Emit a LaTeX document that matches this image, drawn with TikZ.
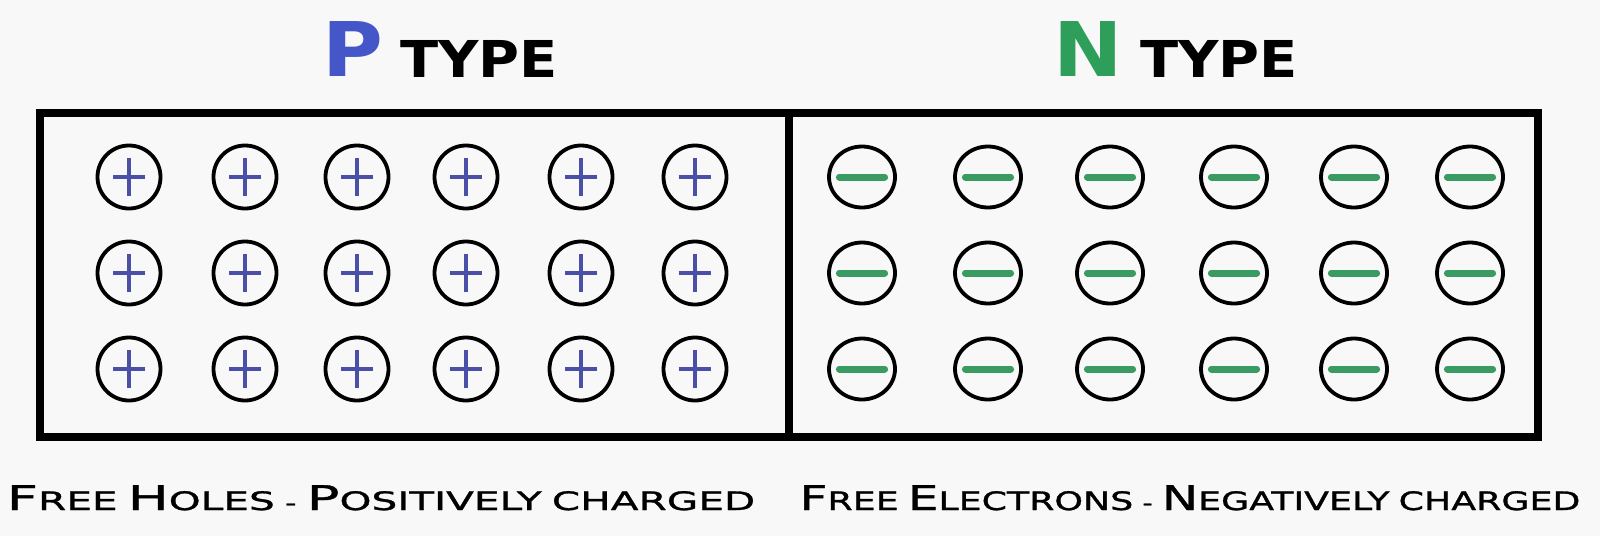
\documentclass[tikz,border=0pt]{standalone}
\usepackage{fontspec}
\setmainfont{DejaVu Sans}
\newfontfamily\titlefont[FakeStretch=1.1]{DejaVu Sans}
\newfontfamily\pcapsfont[FakeStretch=1.6,FakeBold=1.2]{DejaVu Sans}
\newfontfamily\ncapsfont[FakeStretch=1.43,FakeBold=1.2]{DejaVu Sans}
\usetikzlibrary{shapes.geometric}
\usepackage{xcolor}
\definecolor{holeblue}{HTML}{4A50A8}
\definecolor{pblue}{HTML}{4556C8}
\definecolor{ngreen}{HTML}{2E9E5B}
\definecolor{elecgreen}{HTML}{3A9B62}
\definecolor{paper}{HTML}{F8F8F8}
% capital + small capitals, the way the captions are set
\newcommand{\capword}[2]{{\fontsize{17}{20}\selectfont #1}{\fontsize{12.7}{15}\selectfont #2}}

\begin{document}
\begin{tikzpicture}[x=0.5pt, y=-0.5pt,
  hole/.style={circle, draw, line width=1.9pt, minimum size=31.5pt, inner sep=0pt,
    path picture={\draw[holeblue, line width=2.2pt]
      ([xshift=-8pt]path picture bounding box.center) -- ([xshift=8pt]path picture bounding box.center)
      ([yshift=-9.5pt]path picture bounding box.center) -- ([yshift=9.5pt]path picture bounding box.center);}},
  electron/.style={ellipse, draw, line width=1.9pt, minimum width=33pt, minimum height=30.5pt, inner sep=0pt,
    path picture={\draw[elecgreen, line width=3.5pt, line cap=round]
      ([xshift=-11.3pt]path picture bounding box.center) -- ([xshift=11.3pt]path picture bounding box.center);}},
  letter/.style={font=\titlefont\fontsize{37.7}{40}\selectfont\bfseries, inner sep=0pt, anchor=base},
  typeword/.style={font=\titlefont\fontsize{25.4}{28}\selectfont\bfseries, inner sep=0pt, anchor=base},
  caption/.style={inner sep=0pt, anchor=base}]
  \fill[paper] (0,0) rectangle (1600,536);
  \useasboundingbox (0,0) rectangle (1600,536);

  % titles
  \node[letter, text=pblue] (plet) at (353,76) {P};
  \node[typeword] (ptype) at (479,77) {TYPE};
  \node[letter, text=ngreen] (nlet) at (1088,76) {N};
  \node[typeword] (ntype) at (1219,77) {TYPE};

  % the two blocks
  \draw[line width=4.3pt] (40,113) rectangle (1538,437);
  \draw[line width=4.3pt] (789,113) -- (789,437);

  % holes in the p side
  \foreach \x [count=\i] in {129,245,357,466,581,695}
    \foreach \y [count=\j] in {177,273,369}
      \node[hole] (h\i\j) at (\x,\y) {};

  % electrons in the n side
  \foreach \x [count=\i] in {862,988,1110,1234,1354,1470}
    \foreach \y [count=\j] in {177,273,369}
      \node[electron] (e\i\j) at (\x,\y) {};

  % captions
  \node[caption, font=\pcapsfont] (pcap) at (381,510)
    {\capword{F}{REE} \capword{H}{OLES} - \capword{P}{OSITIVELY} \capword{}{CHARGED}};
  \node[caption, font=\ncapsfont] (ncap) at (1190,510)
    {\capword{F}{REE} \capword{E}{LECTRONS} - \capword{N}{EGATIVELY} \capword{}{CHARGED}};
\end{tikzpicture}
\end{document}
